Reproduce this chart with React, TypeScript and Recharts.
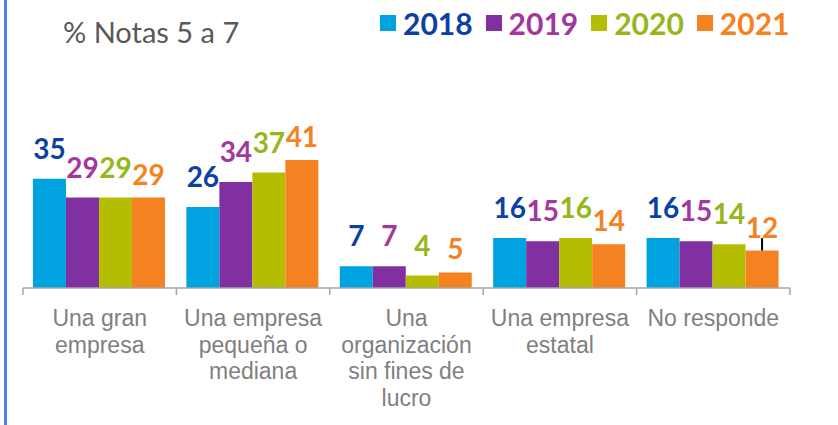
import { BarChart, Bar, XAxis, YAxis, LabelList, ErrorBar } from 'recharts'

const categories = [
  'Una gran\nempresa',
  'Una empresa\npequeña o\nmediana',
  'Una\norganización\nsin fines de\nlucro',
  'Una empresa\nestatal',
  'No responde',
]
const years = ['2018', '2019', '2020', '2021']
const v2018 = [35, 26, 7, 16, 16]
const v2019 = [29, 34, 7, 15, 15]
const v2020 = [29, 37, 4, 16, 14]
const v2021 = [29, 41, 5, 14, 12]
// small black mark over the last orange bar
const err2021 = [[0, 0], [0, 0], [0, 0], [0, 0], [0, 4]]

const barColors = ['#00a3e0', '#8030a0', '#b5bd00', '#f58220']
const textColors = ['#0b41a2', '#a3389c', '#95b71c', '#f5821f']
const labelOffsets = [20, 20, 20, 13]

const series = [v2018, v2019, v2020, v2021]
const data = categories.map((c, i) => ({
  name: c,
  y2018: v2018[i],
  y2019: v2019[i],
  y2020: v2020[i],
  y2021: v2021[i],
  e2021: err2021[i],
}))

const W = 838
const H = 425
const LEFT = 23
const RIGHT = 790
const BAND = (RIGHT - LEFT) / categories.length

function CategoryTick(props: any) {
  const { x, y, payload, index } = props
  const lines = String(payload.value).split('\n')
  return (
    <g>
      <line x1={x - BAND / 2} x2={x - BAND / 2} y1={y} y2={y + 7} stroke="#a6a6a6" strokeWidth={1.5} />
      {index === categories.length - 1 && (
        <line x1={x + BAND / 2} x2={x + BAND / 2} y1={y} y2={y + 7} stroke="#a6a6a6" strokeWidth={1.5} />
      )}
      <text x={x} y={y} textAnchor="middle" fill="#7f7f7f" fontSize={23} fontFamily="'Liberation Sans', Arial, sans-serif">
        {lines.map((l, i) => (
          <tspan key={i} x={x} dy={i === 0 ? 38 : 26.5}>
            {l}
          </tspan>
        ))}
      </text>
    </g>
  )
}

export default function App() {
  return (
    <div style={{ position: 'absolute', left: 0, top: 0, width: W, height: H, background: '#fff', overflow: 'hidden' }}>
      <div style={{ position: 'absolute', left: 4, top: 0, width: 2.5, height: H, background: '#4a84e6' }} />
      <div
        style={{
          position: 'absolute',
          left: 63,
          top: 17,
          fontFamily: 'Lato, sans-serif',
          fontSize: 29,
          lineHeight: '29px',
          color: '#595959',
          whiteSpace: 'nowrap',
        }}
      >
        % Notas 5 a 7
      </div>
      <div
        style={{
          position: 'absolute',
          left: 380,
          top: 8,
          display: 'flex',
          alignItems: 'center',
          fontFamily: 'Lato, sans-serif',
          fontWeight: 700,
          fontSize: 30,
          lineHeight: '30px',
          whiteSpace: 'nowrap',
        }}
      >
        {years.map((yr, i) => (
          <div key={yr} style={{ display: 'flex', alignItems: 'center', marginRight: 13 }}>
            <span style={{ display: 'inline-block', width: 16, height: 16, background: barColors[i], marginRight: 7 }} />
            <span style={{ color: textColors[i] }}>{yr}</span>
          </div>
        ))}
      </div>
      <BarChart
        width={W}
        height={H}
        data={data}
        margin={{ top: 132, right: W - RIGHT, bottom: 7, left: LEFT }}
        barCategoryGap="6.5%"
        barGap={0}
        style={{ position: 'absolute', left: 0, top: 0 }}
      >
        <XAxis
          dataKey="name"
          height={130}
          axisLine={{ stroke: '#a6a6a6', strokeWidth: 1.5 }}
          tickLine={false}
          tickSize={0}
          tickMargin={0}
          interval={0}
          tick={<CategoryTick />}
        />
        <YAxis hide domain={[0, 50]} />
        {years.map((yr, i) => (
          <Bar key={yr} dataKey={`y${yr}`} name={yr} fill={barColors[i]} isAnimationActive={false}>
            <LabelList
              dataKey={`y${yr}`}
              position="top"
              offset={labelOffsets[i]}
              fill={textColors[i]}
              fontSize={28}
              fontWeight={700}
              fontFamily="Lato, sans-serif"
            />
            {i === 3 && (
              <ErrorBar dataKey="e2021" width={0} stroke="#000" strokeWidth={2} direction="y" />
            )}
          </Bar>
        ))}
      </BarChart>
    </div>
  )
}
